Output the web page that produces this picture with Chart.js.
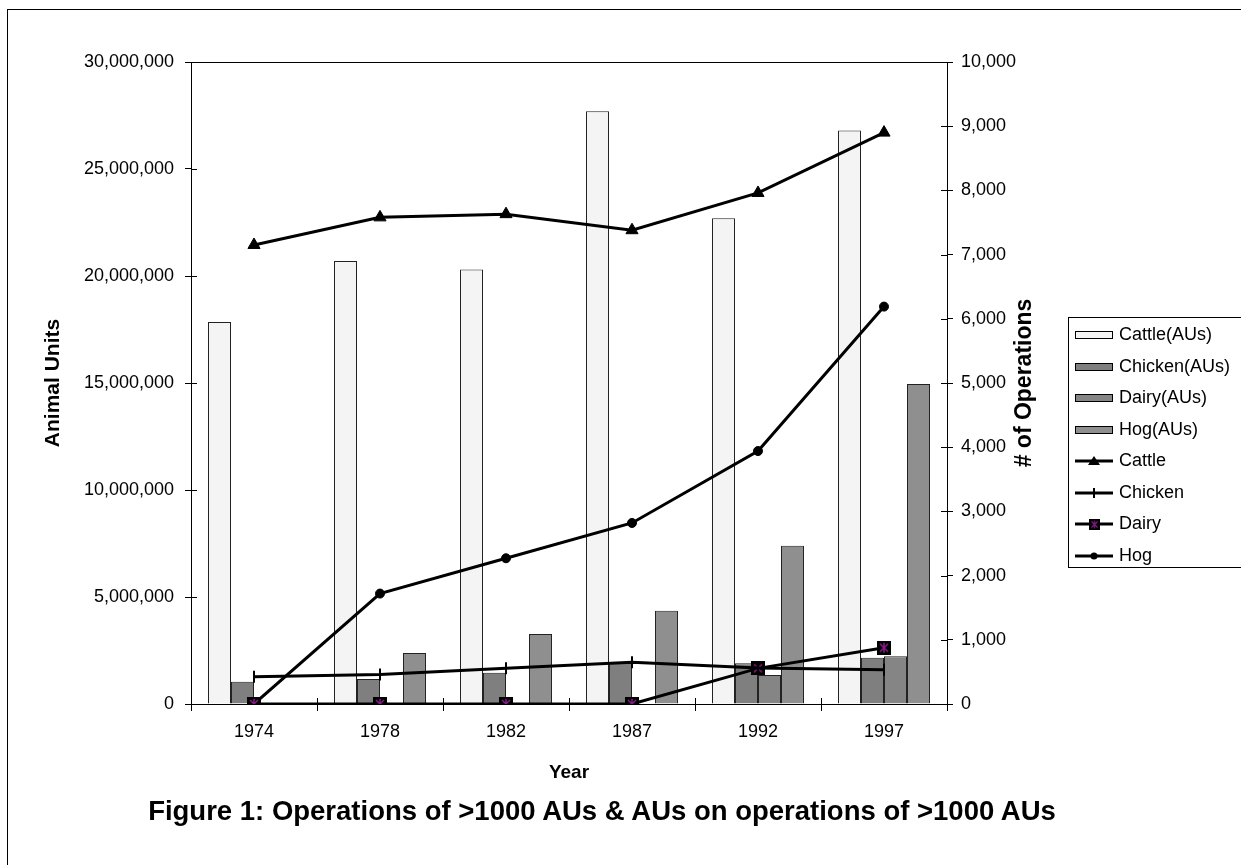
<!DOCTYPE html>
<html>
<head>
<meta charset="utf-8">
<script src="https://cdn.jsdelivr.net/npm/chart.js@4.4.1/dist/chart.umd.min.js"></script>
<style>
    body { margin: 0; background: #fff; font-family: 'Liberation Sans', Arial, sans-serif; }
    #wrap { position: relative; width: 1241px; height: 865px; overflow: hidden; }
    #frame { position: absolute; left: 7px; top: 9px; width: 1300px; height: 900px; border: 1px solid #000; }
    #chart { position: absolute; left: 0; top: 0; }
    #caption { position: absolute; left: 0; width: 1204px; top: 795px; text-align: center; font-weight: bold; font-size: 27.5px; color: #000; }
    #custom-legend { position: absolute; left: 1068px; top: 317px; width: 200px; height: 249px; border: 1px solid #000; list-style: none; margin: 0; padding: 0; }
    #custom-legend li { position: absolute; left: 6px; height: 24px; line-height: 24px; font-size: 18px; color: #000; white-space: nowrap; }
    #custom-legend svg { vertical-align: middle; margin-right: 6px; }
</style>
</head>
<body>
<div id="wrap">
    <div id="frame"></div>
    <canvas id="chart" width="1241" height="865"></canvas>
    <ul id="custom-legend"></ul>
    <div id="caption">Figure 1: Operations of &gt;1000 AUs &amp; AUs on operations of &gt;1000 AUs</div>
</div>
<script>
// data
const years = ['1974', '1978', '1982', '1987', '1992', '1997'];
const cattleAUs = [17850000, 20700000, 20300000, 27700000, 22700000, 26800000];
const chickenAUs = [1040000, 1170000, 1460000, 1920000, 1900000, 2160000];
const dairyAUs = [0, 0, 0, 0, 1350000, 2230000];
const hogAUs = [0, 2380000, 3270000, 4360000, 7400000, 14950000];
const cattleOps = [7150, 7580, 7630, 7380, 7960, 8900];
const chickenOps = [425, 460, 555, 650, 560, 535];
const dairyOps = [0, 0, 0, 0, 555, 877];
const hogOps = [0, 1720, 2270, 2820, 3940, 6190];

const FONT = "'Liberation Sans', Arial, sans-serif";
Chart.defaults.font.family = FONT;
Chart.defaults.color = '#000';

// black square with purple star, used for Dairy points
function dairyMarker() {
    const c = document.createElement('canvas');
    c.width = 14; c.height = 14;
    const g = c.getContext('2d');
    g.fillStyle = '#000';
    g.fillRect(0, 0, 14, 14);
    g.strokeStyle = '#8a1a8a';
    g.lineWidth = 1.5;
    g.beginPath();
    g.moveTo(7, 2); g.lineTo(7, 12);
    g.moveTo(3, 3); g.lineTo(11, 11);
    g.moveTo(11, 3); g.lineTo(3, 11);
    g.stroke();
    return c;
}

// frame round the plot area, inner tick marks, right axis title reading upward
const extras = {
    id: 'extras',
    afterDraw(chart) {
        const { ctx, chartArea: a, scales } = chart;
        ctx.save();
        ctx.strokeStyle = '#000';
        ctx.lineWidth = 1;
        ctx.strokeRect(a.left + 0.5, a.top + 0.5, a.right - a.left, a.bottom - a.top);
        ctx.beginPath();
        scales.y.ticks.forEach(t => {
            const py = Math.round(scales.y.getPixelForValue(t.value)) + 0.5;
            ctx.moveTo(a.left, py); ctx.lineTo(a.left + 6, py);
        });
        scales.y1.ticks.forEach(t => {
            const py = Math.round(scales.y1.getPixelForValue(t.value)) + 0.5;
            ctx.moveTo(a.right - 6, py); ctx.lineTo(a.right, py);
        });
        for (let i = 0; i <= years.length; i++) {
            const px = Math.round(scales.x.getPixelForTick(0) - (scales.x.getPixelForTick(1) - scales.x.getPixelForTick(0)) / 2
                + i * (scales.x.getPixelForTick(1) - scales.x.getPixelForTick(0))) + 0.5;
            ctx.moveTo(px, a.bottom - 6); ctx.lineTo(px, a.bottom);
        }
        ctx.stroke();
        ctx.translate(1025, (a.top + a.bottom) / 2);
        ctx.rotate(-Math.PI / 2);
        ctx.font = 'bold 23px ' + FONT;
        ctx.fillStyle = '#000';
        ctx.textAlign = 'center';
        ctx.textBaseline = 'middle';
        ctx.fillText('# of Operations', 0, 0);
        ctx.restore();
    }
};

function barSet(label, data, fill) {
    return {
        type: 'bar', label: label, data: data, yAxisID: 'y', order: 2,
        backgroundColor: fill, borderColor: '#222', borderWidth: 1,
        categoryPercentage: 0.73, barPercentage: 1.0
    };
}

function lineSet(label, data, style, radius, extra) {
    return Object.assign({
        type: 'line', label: label, data: data, yAxisID: 'y1', order: 1,
        borderColor: '#000', borderWidth: 3, tension: 0,
        pointStyle: style, pointRadius: radius, pointBackgroundColor: '#000',
        pointBorderColor: '#000', pointBorderWidth: 1
    }, extra || {});
}

const datasets = [
    barSet('Cattle(AUs)', cattleAUs, '#f4f4f4'),
    barSet('Chicken(AUs)', chickenAUs, '#7f7f7f'),
    barSet('Dairy(AUs)', dairyAUs, '#858585'),
    barSet('Hog(AUs)', hogAUs, '#8f8f8f'),
    lineSet('Cattle', cattleOps, 'triangle', 7),
    lineSet('Chicken', chickenOps, 'line', 6, { pointRotation: 90, pointBorderWidth: 2 }),
    lineSet('Dairy', dairyOps, dairyMarker(), 7),
    lineSet('Hog', hogOps, 'circle', 4.5)
];

new Chart(document.getElementById('chart').getContext('2d'), {
    data: { labels: years, datasets: datasets },
    options: {
        responsive: false,
        animation: false,
        layout: { padding: { left: 0, top: 62, right: 0, bottom: 81 } },
        plugins: { legend: { display: false }, tooltip: { enabled: false } },
        scales: {
            x: {
                offset: true,
                grid: { display: true, drawOnChartArea: false, offset: true, color: '#000', tickLength: 7 },
                border: { color: '#000' },
                ticks: { font: { size: 18 }, padding: 10, maxRotation: 0 },
                title: { display: true, text: 'Year', font: { size: 19, weight: 'bold' }, padding: { top: 0, bottom: 0 } },
                afterFit: s => { s.height = 80; }
            },
            y: {
                position: 'left', min: 0, max: 30000000,
                grid: { drawOnChartArea: false, color: '#000', tickLength: 6 },
                border: { color: '#000' },
                ticks: { stepSize: 5000000, font: { size: 18 }, padding: 11, callback: v => v.toLocaleString('en-US') },
                title: { display: true, text: 'Animal Units', font: { size: 21, weight: 'bold' }, padding: { top: 41, bottom: 0 } },
                afterFit: s => { s.width = 191; }
            },
            y1: {
                position: 'right', min: 0, max: 10000,
                grid: { drawOnChartArea: false, color: '#000', tickLength: 6 },
                border: { color: '#000' },
                ticks: { stepSize: 1000, font: { size: 18 }, padding: 8, callback: v => v.toLocaleString('en-US') },
                afterFit: s => { s.width = 294; }
            }
        }
    },
    plugins: [extras]
});

// custom legend
const legendContainer = document.getElementById('custom-legend');
const dairyImg = dairyMarker().toDataURL();
const legendItems = [
    { label: 'Cattle(AUs)', box: '#f4f4f4' },
    { label: 'Chicken(AUs)', box: '#7f7f7f' },
    { label: 'Dairy(AUs)', box: '#858585' },
    { label: 'Hog(AUs)', box: '#8f8f8f' },
    { label: 'Cattle', mark: '<polygon points="19,1 25,10 13,10" fill="#000"/>' },
    { label: 'Chicken', mark: '<line x1="19" y1="1" x2="19" y2="11" stroke="#000" stroke-width="2"/>' },
    { label: 'Dairy', mark: '<image href="' + dairyImg + '" x="14" y="1" width="11" height="11"/>' },
    { label: 'Hog', mark: '<circle cx="19" cy="6" r="3.5" fill="#000"/>' }
];
legendItems.forEach((item, index) => {
    const li = document.createElement('li');
    li.style.top = (4 + index * 31.5) + 'px';
    let svg;
    if (item.box) {
        svg = `<svg width="38" height="12"><rect x="0.5" y="2.5" width="37" height="7" fill="${item.box}" stroke="#000" stroke-width="1"/></svg>`;
    } else {
        svg = `<svg width="38" height="12"><line x1="0" y1="6" x2="38" y2="6" stroke="#000" stroke-width="3"/>${item.mark}</svg>`;
    }
    li.innerHTML = svg + item.label;
    legendContainer.appendChild(li);
});
</script>
</body>
</html>
